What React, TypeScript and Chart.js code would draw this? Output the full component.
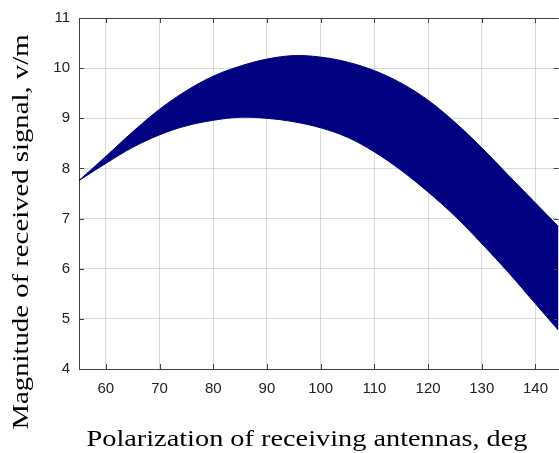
import React, { useEffect, useRef } from "react";
import { Chart, registerables } from "chart.js";

Chart.register(...registerables);

const angles = [55, 60, 65, 70, 75, 80, 85, 90, 95, 100, 105, 110, 115, 120, 125, 130, 135, 140, 144.3];
const upper = [7.76, 8.24, 8.73, 9.18, 9.55, 9.84, 10.04, 10.18, 10.25, 10.22, 10.12, 9.95, 9.7, 9.36, 8.92, 8.41, 7.86, 7.31, 6.84];
const lower = [7.76, 8.1, 8.42, 8.67, 8.85, 8.96, 9.02, 9.0, 8.93, 8.81, 8.62, 8.33, 7.96, 7.53, 7.05, 6.5, 5.92, 5.3, 4.77];
const xTicks = [60, 70, 80, 90, 100, 110, 120, 130, 140];
const yTicks = [4, 5, 6, 7, 8, 9, 10, 11];
const xTitle = "Polarization of receiving antennas, deg";
const yTitle = "Magnitude of received signal, v/m";

const NAVY = "#000080";
const AXIS = "#404040";
const GRID = "rgba(0,0,0,0.14)";

function drawStretched(ctx: CanvasRenderingContext2D, text: string, width: number) {
  const w = ctx.measureText(text).width;
  ctx.save();
  ctx.scale(width / w, 1);
  ctx.fillText(text, 0, 0);
  ctx.restore();
}

const framePlugin = {
  id: "frame",
  afterDraw(chart: any) {
    const { ctx, chartArea } = chart;
    const { left, right, top, bottom } = chartArea;
    const xs = chart.scales.x;
    const ys = chart.scales.y;
    ctx.save();
    ctx.strokeStyle = AXIS;
    ctx.lineWidth = 1;
    ctx.beginPath();
    ctx.moveTo(left, top + 0.5);
    ctx.lineTo(right, top + 0.5);
    xTicks.forEach((v) => {
      const px = Math.round(xs.getPixelForValue(v)) + 0.5;
      ctx.moveTo(px, bottom);
      ctx.lineTo(px, bottom - 5);
      ctx.moveTo(px, top);
      ctx.lineTo(px, top + 5);
    });
    yTicks.forEach((v) => {
      const py = Math.round(ys.getPixelForValue(v)) + 0.5;
      ctx.moveTo(left, py);
      ctx.lineTo(left + 5, py);
      ctx.moveTo(right, py);
      ctx.lineTo(right - 5, py);
    });
    ctx.stroke();

    ctx.fillStyle = "#000";
    ctx.font = '24px "Liberation Serif", "Times New Roman", serif';
    ctx.textAlign = "center";
    ctx.textBaseline = "middle";
    ctx.save();
    ctx.translate(307, 440);
    drawStretched(ctx, xTitle, 441);
    ctx.restore();
    ctx.save();
    ctx.translate(22, 232);
    ctx.rotate(-Math.PI / 2);
    drawStretched(ctx, yTitle, 395);
    ctx.restore();
    ctx.restore();
  },
};

export default function App() {
  const ref = useRef<HTMLCanvasElement>(null);
  useEffect(() => {
    const chart = new Chart(ref.current as HTMLCanvasElement, {
      type: "line",
      data: {
        datasets: [
          {
            data: angles.map((x, i) => ({ x, y: lower[i] })),
            borderColor: NAVY,
            borderWidth: 1,
            pointRadius: 0,
            fill: false,
            tension: 0.35,
          },
          {
            data: angles.map((x, i) => ({ x, y: upper[i] })),
            borderColor: NAVY,
            backgroundColor: NAVY,
            borderWidth: 1,
            pointRadius: 0,
            fill: "-1",
            tension: 0.35,
          },
        ],
      },
      options: {
        responsive: false,
        animation: false,
        layout: { padding: { top: 17, right: 0, left: 0, bottom: 0 } },
        plugins: { legend: { display: false }, tooltip: { enabled: false } },
        scales: {
          x: {
            type: "linear",
            min: 55,
            max: 144.3,
            afterBuildTicks: (s: any) => {
              s.ticks = xTicks.map((v) => ({ value: v }));
            },
            afterFit: (s: any) => {
              s.height = 84;
            },
            grid: { color: GRID, drawTicks: false },
            border: { display: true, color: AXIS, width: 1 },
            ticks: {
              padding: 11,
              color: "#222",
              font: { family: '"Liberation Sans", Arial, sans-serif', size: 15 },
              maxRotation: 0,
            },
          },
          y: {
            type: "linear",
            min: 4,
            max: 11,
            afterBuildTicks: (s: any) => {
              s.ticks = yTicks.map((v) => ({ value: v }));
            },
            afterFit: (s: any) => {
              s.width = 79;
            },
            grid: { color: GRID, drawTicks: false },
            border: { display: true, color: AXIS, width: 1 },
            ticks: {
              padding: 9,
              color: "#222",
              font: { family: '"Liberation Sans", Arial, sans-serif', size: 15 },
            },
          },
        },
      },
      plugins: [framePlugin],
    });
    return () => chart.destroy();
  }, []);
  return (
    <div style={{ position: "fixed", left: 0, top: 0, width: 559, height: 453, background: "#fff" }}>
      <canvas ref={ref} width={559} height={453} style={{ display: "block" }} />
    </div>
  );
}
